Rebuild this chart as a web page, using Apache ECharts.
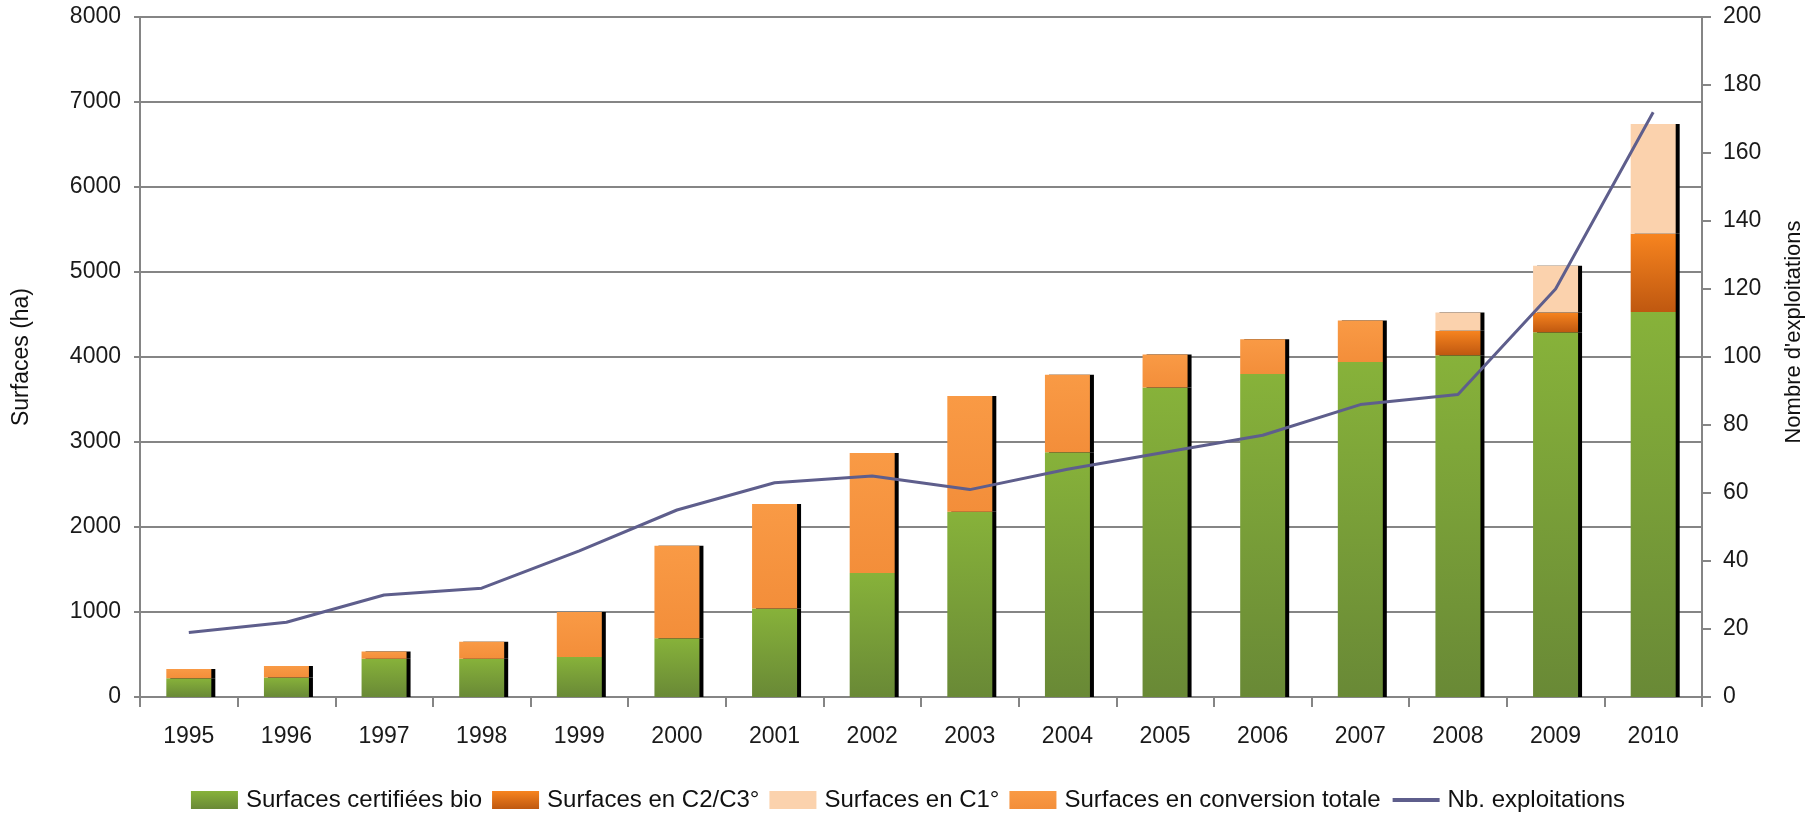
<!DOCTYPE html>
<html><head><meta charset="utf-8">
<script src="https://cdn.jsdelivr.net/npm/echarts@6/dist/echarts.min.js"></script>
<style>html,body{margin:0;padding:0;background:#fff}#c{width:1816px;height:822px}</style>
</head><body><div id="c"></div>
<script>
const years = ['1995','1996','1997','1998','1999','2000','2001','2002','2003','2004','2005','2006','2007','2008','2009','2010'];
const certifiees = [220,230,450,450,470,690,1040,1460,2180,2880,3640,3800,3940,4020,4290,4530];
const c2c3 = [null,null,null,null,null,null,null,null,null,null,null,null,null,290,235,920];
const c1 = [null,null,null,null,null,null,null,null,null,null,null,null,null,215,550,1290];
const conversionTotale = [110,135,85,200,530,1090,1230,1410,1360,910,390,410,490,null,null,null];
const exploitations = [19,22,30,32,43,55,63,65,61,67,72,77,86,89,120,172];
const leftTicks = {min:0,max:8000,interval:1000};
const rightTicks = {min:0,max:200,interval:20};

const FONT = '"Liberation Sans", Arial, sans-serif';
const GREY = '#858585';
const shadow = {shadowColor:'#000', shadowOffsetX:4, shadowOffsetY:0, shadowBlur:0};
function vgrad(a,b){return new echarts.graphic.LinearGradient(0,0,0,1,[{offset:0,color:a},{offset:1,color:b}]);}

const chart = echarts.init(document.getElementById('c'), null, {renderer:'canvas'});
chart.setOption({
  animation:false,
  backgroundColor:'#fff',
  textStyle:{fontFamily:FONT},
  grid:{left:140, right:114, top:17, bottom:125, containLabel:false},
  legend:{
    left:'center', top:783, itemWidth:47, itemHeight:18, itemGap:10,
    data:[
      {name:'Surfaces certifiées bio', icon:'rect'},
      {name:'Surfaces en C2/C3°', icon:'rect'},
      {name:'Surfaces en C1°', icon:'rect'},
      {name:'Surfaces en conversion totale', icon:'rect'},
      {name:'Nb. exploitations', itemStyle:{opacity:0}, lineStyle:{width:4}}
    ],
    textStyle:{fontFamily:FONT, fontSize:24, color:'#111', padding:[0,0,0,3]},
    itemStyle:{shadowColor:'rgba(0,0,0,0)', shadowOffsetX:0, shadowOffsetY:0, shadowBlur:0}
  },
  xAxis:{
    type:'category', data:years,
    axisLine:{lineStyle:{color:GREY, width:2}},
    axisTick:{show:true, length:10, lineStyle:{color:GREY, width:2}},
    axisLabel:{color:'#1a1a1a', fontSize:23, margin:28, fontFamily:FONT},
    splitLine:{show:false}
  },
  yAxis:[{
    type:'value', position:'left', min:leftTicks.min, max:leftTicks.max, interval:leftTicks.interval,
    axisLine:{show:true, lineStyle:{color:GREY, width:2}},
    axisTick:{show:true, length:6, lineStyle:{color:GREY, width:2}},
    axisLabel:{color:'#1a1a1a', fontSize:23, margin:19, fontFamily:FONT, formatter:v=>String(v)},
    splitLine:{show:true, lineStyle:{color:GREY, width:2}},
    name:'Surfaces (ha)', nameLocation:'middle', nameRotate:90, nameGap:107,
    nameTextStyle:{color:'#111', fontSize:23, fontFamily:FONT}
  },{
    type:'value', position:'right', min:rightTicks.min, max:rightTicks.max, interval:rightTicks.interval,
    axisLine:{show:true, lineStyle:{color:GREY, width:2}},
    axisTick:{show:true, length:9, lineStyle:{color:GREY, width:2}},
    axisLabel:{color:'#1a1a1a', fontSize:23, margin:21, fontFamily:FONT, formatter:v=>String(v)},
    splitLine:{show:false},
    name:"Nombre d'exploitations", nameLocation:'middle', nameRotate:90, nameGap:81,
    nameTextStyle:{color:'#111', fontSize:22, fontFamily:FONT, padding:[0,0,0,50]}
  }],
  series:[
    {name:'Surfaces certifiées bio', type:'bar', stack:'s', barWidth:45, data:certifiees,
      itemStyle:Object.assign({color:vgrad('#87b23a','#698936')}, shadow)},
    {name:'Surfaces en C2/C3°', type:'bar', stack:'s', barWidth:45, data:c2c3,
      itemStyle:Object.assign({color:vgrad('#f7841f','#bf5810')}, shadow)},
    {name:'Surfaces en C1°', type:'bar', stack:'s', barWidth:45, data:c1,
      itemStyle:Object.assign({color:'#fbd2ad'}, shadow)},
    {name:'Surfaces en conversion totale', type:'bar', stack:'s', barWidth:45, data:conversionTotale,
      itemStyle:Object.assign({color:vgrad('#f99a45','#f38e3a')}, shadow)},
    {name:'Nb. exploitations', type:'line', yAxisIndex:1, data:exploitations, symbol:'none', z:5,
      lineStyle:{color:'#5e5e8c', width:3}, itemStyle:{color:'#5e5e8c'}}
  ]
});
</script>
</body></html>
